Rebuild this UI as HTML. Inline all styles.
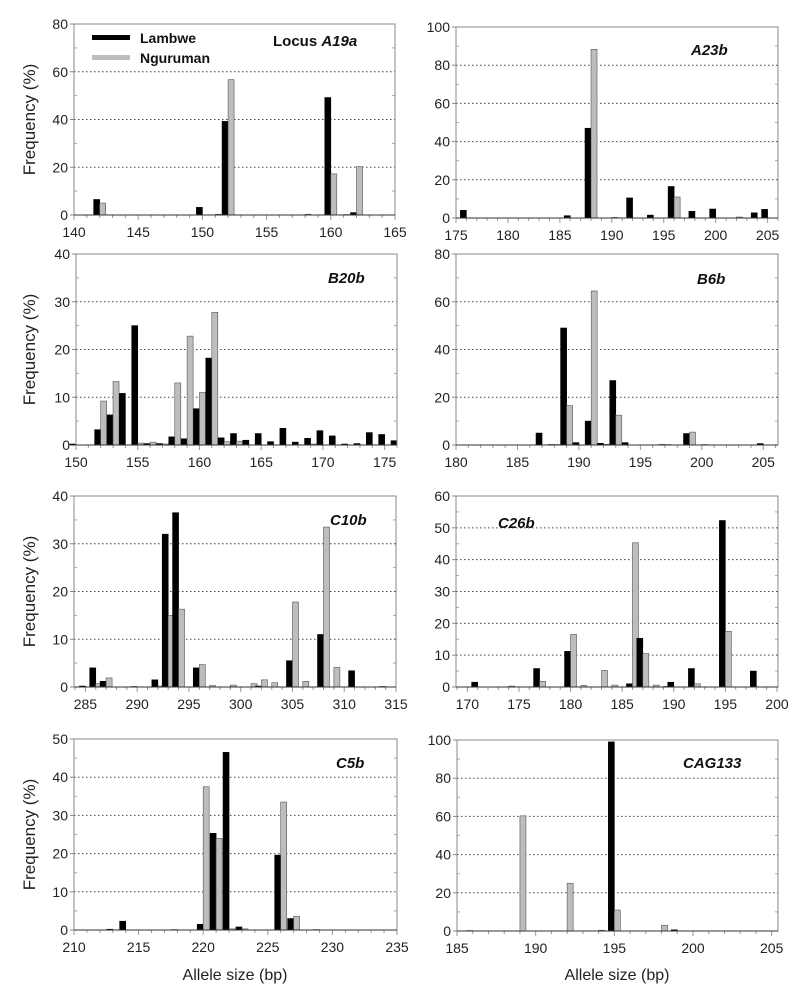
<!DOCTYPE html>
<html><head><meta charset="utf-8">
<style>
html,body{margin:0;padding:0;background:#fff;}
svg{display:block;font-family:"Liberation Sans",Arial,sans-serif;}
</style></head>
<body>
<svg id="fig" width="800" height="1001" viewBox="0 0 800 1001" xmlns="http://www.w3.org/2000/svg">
<g id="root"></g>
</svg>
<script>
// ---- data ----
const a19aAlleles = [142,150,151,152,158,160,161,162];
const a19aLambwe  = [6.5,3.2,0,39.2,0,49.2,0,1];
const a19aNguruman= [5,0,0.3,56.7,0.3,17.2,0.2,20.3];

const a23bAlleles = [176,186,188,190,192,194,196,198,200,202,204,205];
const a23bLambwe  = [4,1.2,47,0,10.5,1.5,16.5,3.5,4.7,0,2.7,4.5];
const a23bNguruman= [0,0,88.3,0.3,0,0,11,0,0,0.5,0,0];

const b20bAlleles = [150,152,153,154,155,156,157,158,159,160,161,162,163,164,165,166,167,168,169,170,171,172,173,174,175,176];
const b20bLambwe  = [0.2,3.2,6.3,10.8,25,0.3,0.3,1.7,1.3,7.6,18.2,1.5,2.4,1.0,2.4,0.7,3.5,0.6,1.4,3.0,1.9,0.2,0.3,2.6,2.2,0.9];
const b20bNguruman= [0,9.2,13.3,0,0.4,0.6,0.2,13,22.8,11,27.8,0.7,0.8,0,0,0,0,0,0.2,0,0,0,0,0,0,0];

const b6bAlleles  = [187,188,189,190,191,192,193,194,197,199,200,205];
const b6bLambwe   = [5,0.2,49,1,10,0.7,27,1,0.2,4.8,0,0.6];
const b6bNguruman = [0,0.2,16.5,0,64.5,0.3,12.5,0,0.2,5.4,0.2,0];

const c10bAlleles = [285,286,287,290,292,293,294,296,297,299,301,302,303,305,306,308,309,311,314];
const c10bLambwe  = [0.2,4,1.2,0.1,1.5,32,36.5,4,0,0,0,0.2,0,5.5,0,11,0,3.4,0.1];
const c10bNguruman= [0,0.7,1.9,0,0.2,15,16.3,4.7,0.3,0.4,0.7,1.5,0.9,17.8,1.2,33.5,4.1,0,0];

const c26bAlleles = [171,174,177,180,181,183,184,186,187,188,189,190,192,195,198];
const c26bLambwe  = [1.5,0,5.8,11.2,0,0,0,1,15.3,0,0,1.5,5.8,52.3,5];
const c26bNguruman= [0,0.3,1.8,16.5,0.5,5.2,0.6,45.3,10.5,0.6,0.2,0,1,17.5,0];

const c5bAlleles  = [213,214,218,220,221,222,223,226,227,229];
const c5bLambwe   = [0.2,2.3,0.1,1.5,25.3,46.5,0.8,19.6,3,0.1];
const c5bNguruman = [0,0,0,37.5,24,0.3,0.3,33.5,3.6,0];

const cag133Alleles = [186,189,192,194,195,198,199];
const cag133Lambwe  = [0.2,0,0,0,99,0,0.6];
const cag133Nguruman= [0,60.3,25,0.4,11,3,0];

const xTicksA19a=[140,145,150,155,160,165];
const xTicksA23b=[175,180,185,190,195,200,205];
const xTicksB20b=[150,155,160,165,170,175];
const xTicksB6b=[180,185,190,195,200,205];
const xTicksC10b=[285,290,295,300,305,310,315];
const xTicksC26b=[170,175,180,185,190,195,200];
const xTicksC5b=[210,215,220,225,230,235];
const xTicksCAG=[185,190,195,200,205];

// ---- layout ----
const panels = [
 {id:'a19a',title:'A19a',prefix:'Locus ',L:74,R:395,T:24,B:215,xmin:140,xmax:165,ymax:80,ystep:20,al:a19aAlleles,lv:a19aLambwe,nv:a19aNguruman,xt:xTicksA19a,tx:273,ty:46,ylab:true,legend:true},
 {id:'a23b',title:'A23b',prefix:'',L:456,R:778,T:27,B:218,xmin:175,xmax:206,ymax:100,ystep:20,al:a23bAlleles,lv:a23bLambwe,nv:a23bNguruman,xt:xTicksA23b,tx:691,ty:55},
 {id:'b20b',title:'B20b',prefix:'',L:76,R:397,T:254,B:445,xmin:150,xmax:176,ymax:40,ystep:10,al:b20bAlleles,lv:b20bLambwe,nv:b20bNguruman,xt:xTicksB20b,tx:328,ty:283,ylab:true},
 {id:'b6b',title:'B6b',prefix:'',L:456,R:778,T:254,B:445,xmin:180,xmax:206.2,ymax:80,ystep:20,al:b6bAlleles,lv:b6bLambwe,nv:b6bNguruman,xt:xTicksB6b,tx:697,ty:284},
 {id:'c10b',title:'C10b',prefix:'',L:74,R:396,T:496,B:687,xmin:283.9,xmax:315,ymax:40,ystep:10,al:c10bAlleles,lv:c10bLambwe,nv:c10bNguruman,xt:xTicksC10b,tx:330,ty:525,ylab:true},
 {id:'c26b',title:'C26b',prefix:'',L:456,R:778,T:496,B:687,xmin:168.9,xmax:200.1,ymax:60,ystep:10,al:c26bAlleles,lv:c26bLambwe,nv:c26bNguruman,xt:xTicksC26b,tx:498,ty:528},
 {id:'c5b',title:'C5b',prefix:'',L:74,R:397,T:739,B:930,xmin:210,xmax:235,ymax:50,ystep:10,al:c5bAlleles,lv:c5bLambwe,nv:c5bNguruman,xt:xTicksC5b,tx:336,ty:768,ylab:true},
 {id:'cag133',title:'CAG133',prefix:'',L:457,R:778,T:740,B:931,xmin:185,xmax:205.4,ymax:100,ystep:20,al:cag133Alleles,lv:cag133Lambwe,nv:cag133Nguruman,xt:xTicksCAG,tx:683,ty:768}
];

const NS='http://www.w3.org/2000/svg';
const root=document.getElementById('root');
function mk(tag,attrs,parent){const e=document.createElementNS(NS,tag);for(const k in attrs)e.setAttribute(k,attrs[k]);(parent||root).appendChild(e);return e;}

panels.forEach(p=>{
  const g=mk('g',{});
  
  
  const x=v=>p.L+(v-p.xmin)/(p.xmax-p.xmin)*(p.R-p.L);
  const y=v=>p.B-v/p.ymax*(p.B-p.T);
  // grid + y ticks
  for(let v=0;v<=p.ymax;v+=p.ystep){
    if(v>0&&v<p.ymax){const gl=mk('line',{x1:p.L,x2:p.R,y1:y(v),y2:y(v),stroke:'#444','stroke-width':1,'stroke-dasharray':'1.5,2.5'},g);
      }
    const t=mk('text',{x:p.L-6,y:y(v)+5,'text-anchor':'end','font-size':14,fill:'#222'},g);
    t.textContent=v;
    
    mk('line',{x1:p.L-4,x2:p.L,y1:y(v),y2:y(v),stroke:'#888'},g);
    if(v<p.ymax){const hv=v+p.ystep/2;
      mk('line',{x1:p.L,x2:p.L+3,y1:y(hv),y2:y(hv),stroke:'#aaa'},g);
      mk('line',{x1:p.R-3,x2:p.R,y1:y(hv),y2:y(hv),stroke:'#aaa'},g);}
  }
  // minor x ticks
  for(let v=Math.ceil(p.xmin);v<=p.xmax;v++){
    const maj=p.xt.includes(v);
    mk('line',{x1:x(v),x2:x(v),y1:p.B,y2:p.B+(maj?5:3),stroke:'#999'},g);
  }
  p.xt.forEach(v=>{
    const t=mk('text',{x:x(v),y:p.B+22,'text-anchor':'middle','font-size':14,fill:'#222'},g);
    t.textContent=v;
    
  });
  // bars
  const bw=6;
  p.al.forEach((a,i)=>{
    const cx=x(a);
    if(p.lv[i]>0){const h=p.B-y(p.lv[i]);
      const r=mk('rect',{x:cx-bw,y:y(p.lv[i]),width:bw,height:h,fill:'#000',stroke:'#000','stroke-width':0.6},g);
      }
    if(p.nv[i]>0){const h=p.B-y(p.nv[i]);
      const r=mk('rect',{x:cx,y:y(p.nv[i]),width:bw,height:h,fill:'#bdbdbd',stroke:'#555','stroke-width':0.6},g);
      }
  });
  // frame
  const fr=mk('rect',{x:p.L,y:p.T,width:p.R-p.L,height:p.B-p.T,fill:'none',stroke:'#888','stroke-width':1},g);
  
  mk('line',{x1:p.L,x2:p.R,y1:p.B,y2:p.B,stroke:'#333','stroke-width':1},g);
  // title
  const tt=mk('text',{x:p.tx,y:p.ty,'font-size':15,'font-weight':'bold',fill:'#111'},g);
  
  if(p.prefix){const s1=mk('tspan',{},tt);s1.textContent=p.prefix;}
  const s2=mk('tspan',{'font-style':'italic'},tt);s2.textContent=p.title;
  if(p.ylab){
    const cy=(p.T+p.B)/2;
    const yl=mk('text',{x:0,y:0,transform:`translate(35,${cy}) rotate(-90)`,'text-anchor':'middle','font-size':17,fill:'#222'},g);
    yl.textContent='Frequency (%)';
    
  }
  if(p.legend){
    const lg=mk('g',{},g);
    
    mk('rect',{x:92,y:35,width:38,height:5,fill:'#000'},lg);
    const t1=mk('text',{x:140,y:43,'font-size':14,'font-weight':'bold',fill:'#111'},lg);t1.textContent='Lambwe';
    
    mk('rect',{x:92,y:55,width:38,height:5,fill:'#bdbdbd'},lg);
    const t2=mk('text',{x:140,y:63,'font-size':14,'font-weight':'bold',fill:'#111'},lg);t2.textContent='Nguruman';
    
  }
});
[[235,'x-axis-title-left'],[617,'x-axis-title-right']].forEach(([cx,n])=>{
  const t=mk('text',{x:cx,y:980,'text-anchor':'middle','font-size':16,fill:'#222'});
  t.textContent='Allele size (bp)';
  
});
</script>
</body></html>
